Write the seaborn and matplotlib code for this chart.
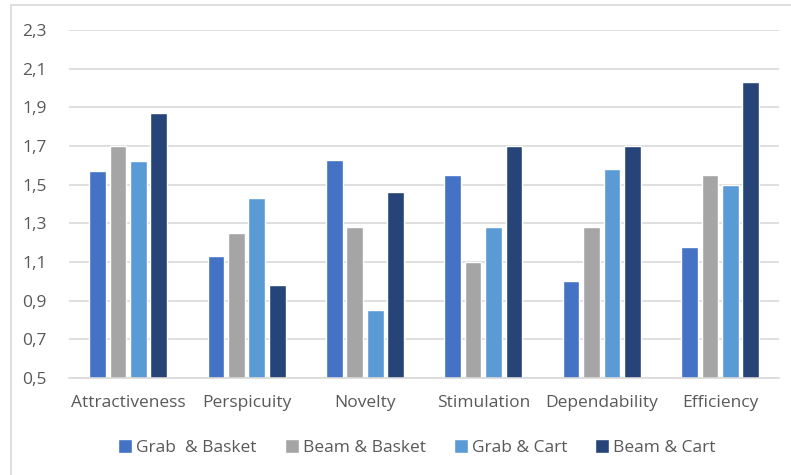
import pandas as pd
import seaborn as sns
import matplotlib.pyplot as plt
from matplotlib.patches import Rectangle
from matplotlib.ticker import FuncFormatter

categories = ['Attractiveness', 'Perspicuity', 'Novelty', 'Stimulation', 'Dependability', 'Efficiency']
series = ['Grab  & Basket', 'Beam & Basket', 'Grab & Cart', 'Beam & Cart']
grab_basket = [1.57, 1.13, 1.63, 1.55, 1.00, 1.18]
beam_basket = [1.70, 1.25, 1.28, 1.10, 1.28, 1.55]
grab_cart = [1.62, 1.43, 0.85, 1.28, 1.58, 1.50]
beam_cart = [1.87, 0.98, 1.46, 1.70, 1.70, 2.03]
yticks = [0.5, 0.7, 0.9, 1.1, 1.3, 1.5, 1.7, 1.9, 2.1, 2.3]
colors = ['#4472C4', '#A5A5A5', '#5B9BD5', '#264478']

rows = []
for name, vals in zip(series, [grab_basket, beam_basket, grab_cart, beam_cart]):
    for c, v in zip(categories, vals):
        rows.append({'category': c, 'series': name, 'value': v})
df = pd.DataFrame(rows)

sns.set_style('white')
plt.rcParams['font.family'] = ['Open Sans', 'DejaVu Sans']
text_col = '#595959'

fig = plt.figure(figsize=(7.91, 4.75), dpi=100)
ax = fig.add_axes([0.0872, 0.204, 0.898, 0.733])

sns.barplot(data=df, x='category', y='value', hue='series', hue_order=series,
            palette=colors, saturation=1, width=0.69, gap=0.18, ax=ax, legend=True)

ax.set_ylim(0.5, 2.3)
ax.set_yticks(yticks)
ax.yaxis.set_major_formatter(FuncFormatter(lambda v, p: f'{v:.1f}'.replace('.', ',')))
ax.grid(axis='y', color='#D9D9D9', linewidth=1.2)
ax.set_axisbelow(True)
for s in ['top', 'right', 'left']:
    ax.spines[s].set_visible(False)
ax.spines['bottom'].set_color('#D9D9D9')
ax.spines['bottom'].set_linewidth(1.2)
ax.tick_params(axis='both', length=0, labelsize=12.5, colors=text_col, pad=12)
ax.tick_params(axis='y', pad=16)
ax.set_xlabel('')
ax.set_ylabel('')

handles, labels = ax.get_legend_handles_labels()
ax.legend(handles, labels, loc='center', bbox_to_anchor=(0.49, -0.20), ncol=4,
          frameon=False, fontsize=12.5, handlelength=0.8, handleheight=0.8,
          handletextpad=0.25, columnspacing=1.6, labelcolor=text_col)

fig.patches.append(Rectangle((0.014, -0.01), 1.0, 0.999, transform=fig.transFigure,
                             fill=False, edgecolor='#D9D9D9', linewidth=1.2))

fig.savefig('out.png', dpi=100)
